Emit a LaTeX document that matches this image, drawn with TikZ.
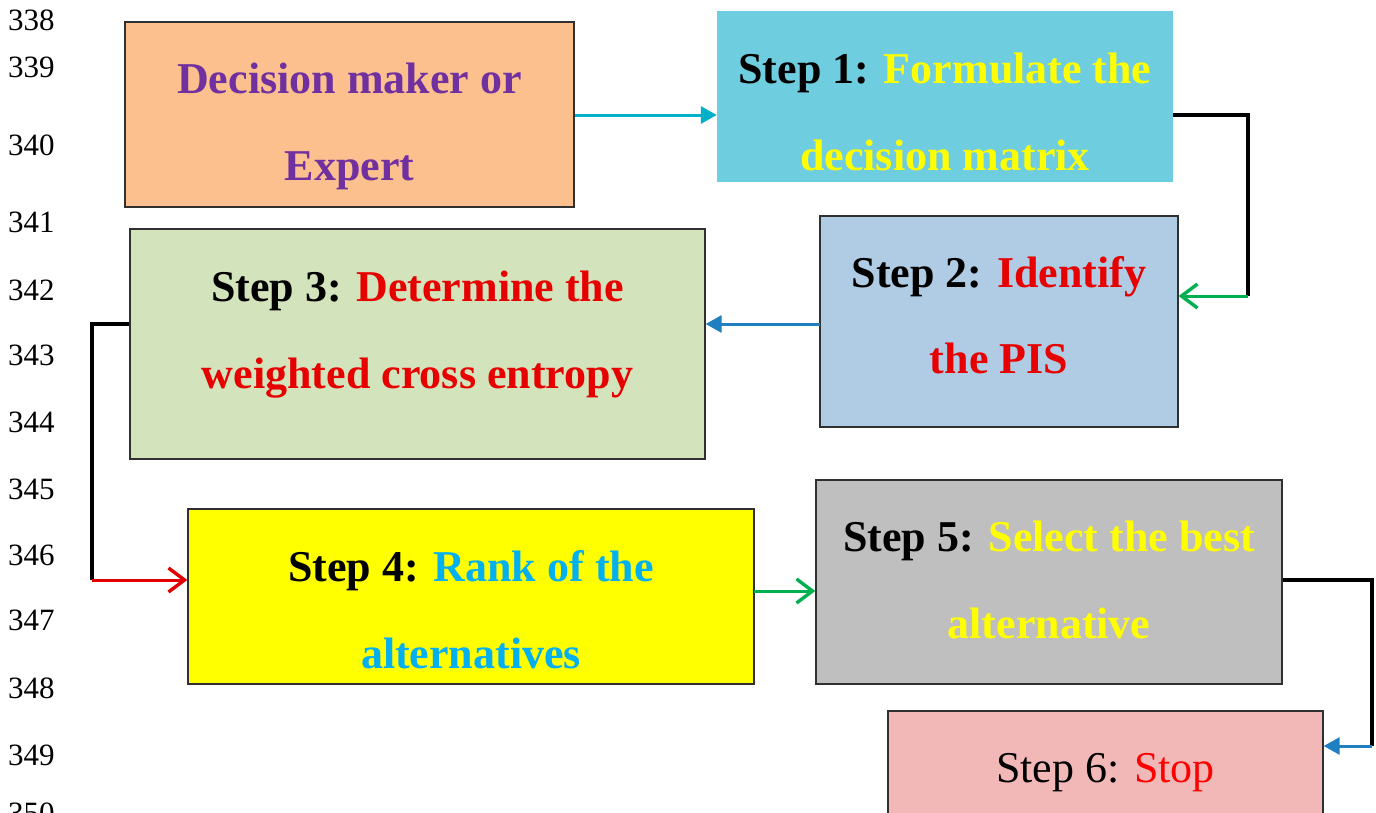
\documentclass[tikz,border=0pt]{standalone}
\usepackage{fontspec}
\setmainfont{Liberation Serif}
\usetikzlibrary{arrows.meta}
\definecolor{boxA}{HTML}{FBC08D}
\definecolor{boxB}{HTML}{6FCDE0}
\definecolor{boxC}{HTML}{B0CCE4}
\definecolor{boxD}{HTML}{D3E3BC}
\definecolor{boxE}{HTML}{FFFF00}
\definecolor{boxF}{HTML}{BFBFBF}
\definecolor{boxG}{HTML}{F2B8B7}
\definecolor{tpurple}{HTML}{7030A0}
\definecolor{tyellow}{HTML}{FFFF00}
\definecolor{tred}{HTML}{E60000}
\definecolor{tredB}{HTML}{FF0000}
\definecolor{tblue}{HTML}{00B0F0}
\definecolor{acyan}{HTML}{00B0C8}
\definecolor{agreen}{HTML}{00B050}
\definecolor{ablue}{HTML}{1F7FC1}
\definecolor{ared}{HTML}{E00000}
\definecolor{bord}{HTML}{303030}
\begin{document}
\begin{tikzpicture}[x=1pt,y=-1pt,
  box/.style={rectangle, draw=bord, line width=1.3pt, inner sep=0pt},
  nobox/.style={rectangle, draw=none, inner sep=0pt},
  txt/.style={anchor=base, inner sep=0pt, font=\fontsize{44}{52}\selectfont\bfseries},
  txtreg/.style={anchor=base, inner sep=0pt, font=\fontsize{44}{52}\selectfont},
  lnum/.style={anchor=base west, inner sep=0pt, font=\fontsize{31}{34}\selectfont},
  blk/.style={line width=3.2pt, black},
  filledtip/.style={line width=3pt, -{Triangle[length=16pt,width=17pt]}},
  opentip/.style={line width=3pt, -{Straight Barb[length=16pt,width=24pt,line width=3.4pt]}}
]
\clip (0,0) rectangle (1376,812);
\fill[white] (0,0) rectangle (1376,812);

% line numbers
\foreach \n/\y in {338/30,339/77,340/155,341/232,342/300,343/365,344/432,345/499,346/565,347/630,348/698,349/765,350/823}
  \node[lnum] (ln\n) at (8,\y) {\n};

% boxes
\node[box, fill=boxA, minimum width=449pt, minimum height=185pt] (A) at (349.5,114.5) {};
\node[nobox, fill=boxB, minimum width=456pt, minimum height=171pt] (S1) at (945,96.5) {};
\node[box, fill=boxC, minimum width=358pt, minimum height=211pt] (S2) at (999,321.5) {};
\node[box, fill=boxD, minimum width=575pt, minimum height=230pt] (S3) at (417.5,344) {};
\node[box, fill=boxE, minimum width=566pt, minimum height=175pt] (S4) at (471,596.5) {};
\node[box, fill=boxF, minimum width=466pt, minimum height=204pt] (S5) at (1049,582) {};
\node[box, fill=boxG, minimum width=435pt, minimum height=128pt] (S6) at (1105.5,775) {};

% texts
\node[txt] (tA1) at (349.5,93) {\textcolor{tpurple}{Decision maker or}};
\node[txt] (tA2) at (349.5,180) {\textcolor{tpurple}{Expert}};
\node[txt] (t11) at (945,83) {Step 1: \textcolor{tyellow}{Formulate the}};
\node[txt] (t12) at (945,170) {\textcolor{tyellow}{decision matrix}};
\node[txt] (t21) at (999,287) {Step 2: \textcolor{tred}{Identify}};
\node[txt] (t22) at (999,373) {\textcolor{tred}{the PIS}};
\node[txt] (t31) at (417.5,301) {Step 3: \textcolor{tred}{Determine the}};
\node[txt] (t32) at (417.5,388) {\textcolor{tred}{weighted cross entropy}};
\node[txt] (t41) at (471,581) {Step 4: \textcolor{tblue}{Rank of the}};
\node[txt] (t42) at (471,668) {\textcolor{tblue}{alternatives}};
\node[txt] (t51) at (1049,551) {Step 5: \textcolor{tyellow}{Select the best}};
\node[txt] (t52) at (1049,638) {\textcolor{tyellow}{alternative}};
\node[txtreg] (t61) at (1105.5,782) {Step 6: \textcolor{tredB}{Stop}};

% connector bends
\coordinate (c1a) at (1248,115);
\coordinate (c1b) at (1248,296);
\coordinate (c2) at (820,324);
\coordinate (c3a) at (92,324);
\coordinate (c3b) at (92,580);
\coordinate (c4) at (754,591);
\coordinate (c5a) at (1372,580);
\coordinate (c5b) at (1372,746);

% connectors
\draw[filledtip, acyan] (A.east |- c1a) -- (S1.west |- c1a);
\draw[blk] (S1.east |- c1a) -- (c1a) -- (c1b);
\draw[opentip, agreen] (c1b) -- (S2.east |- c1b);
\draw[filledtip, ablue] (c2) -- (S3.east |- c2);
\draw[blk] (S3.west |- c3a) -- (c3a) -- (c3b);
\draw[opentip, ared] (c3b) -- (S4.west |- c3b);
\draw[opentip, agreen] (c4) -- (S5.west |- c4);
\draw[blk] (S5.east |- c5a) -- (c5a) -- (c5b);
\draw[filledtip, ablue] (c5b) -- (S6.east |- c5b);
\end{tikzpicture}
\end{document}
